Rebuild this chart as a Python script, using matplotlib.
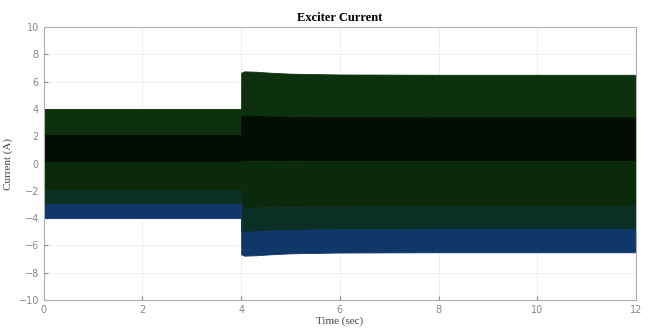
import numpy as np
import matplotlib.pyplot as plt

# envelope of the exciter current
t_env = [0.0, 4.0, 4.0, 4.06, 4.3, 4.6, 5.0, 6.0, 8.0, 12.0]
amp_env = [4.0, 4.0, 6.65, 6.75, 6.72, 6.65, 6.58, 6.52, 6.5, 6.5]

# colour stripes inside the band (fraction of amplitude, top to bottom)
band_edges = [1.0, 0.52, 0.03, -0.48, -0.74, -1.0]
band_colors = ['#0d300d', '#030d03', '#0b2a0b', '#0a3026', '#10376a']

xticks = [0, 2, 4, 6, 8, 10, 12]
yticks = [-10, -8, -6, -4, -2, 0, 2, 4, 6, 8, 10]

t = np.array(t_env)
amp = np.array(amp_env)

fig = plt.figure(figsize=(6.53, 3.29), dpi=100)
ax = fig.add_axes([0.067, 0.088, 0.907, 0.83])

for i, c in enumerate(band_colors):
    ax.fill_between(t, amp * band_edges[i + 1], amp * band_edges[i],
                    facecolor=c, edgecolor=c, linewidth=0.6, zorder=2)

ax.set_xlim(0, 12)
ax.set_ylim(-10, 10)
ax.set_xticks(xticks)
ax.set_yticks(yticks)
ax.grid(True, color='#ececec', linewidth=0.6, zorder=0)
ax.tick_params(labelsize=7, colors='#888888', length=3, direction='in')
for s in ax.spines.values():
    s.set_color('#b0b0b0')
    s.set_linewidth(0.8)

ax.set_title('Exciter Current', fontsize=9, fontweight='bold',
             family='Liberation Serif', pad=4)
ax.set_xlabel('Time (sec)', fontsize=8, family='Liberation Serif',
              color='#444444', labelpad=1)
ax.set_ylabel('Current (A)', fontsize=8, family='Liberation Serif',
              color='#444444', labelpad=4)

fig.savefig('out.png', dpi=100)
